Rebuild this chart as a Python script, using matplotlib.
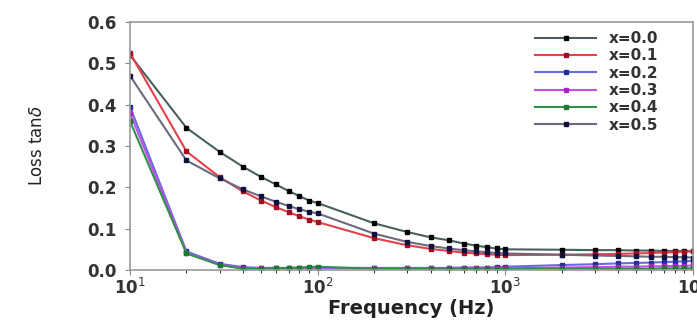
import numpy as np
import matplotlib
matplotlib.use("Agg")
from matplotlib import pyplot as plt

freq = [10, 20, 30, 40, 50, 60, 70, 80, 90,
        100, 200, 300, 400, 500, 600, 700, 800, 900,
        1000, 2000, 3000, 4000, 5000, 6000, 7000, 8000, 9000, 10000]

x00 = [0.520, 0.344, 0.286, 0.250, 0.225, 0.207, 0.191, 0.179, 0.168,
       0.162, 0.113, 0.092, 0.079, 0.072, 0.064, 0.059, 0.055, 0.052,
       0.050, 0.049, 0.048, 0.048, 0.047, 0.047, 0.046, 0.046, 0.046, 0.045]
x01 = [0.525, 0.287, 0.225, 0.190, 0.168, 0.152, 0.140, 0.130, 0.122,
       0.116, 0.077, 0.060, 0.051, 0.046, 0.042, 0.040, 0.038, 0.037,
       0.036, 0.037, 0.038, 0.039, 0.040, 0.041, 0.042, 0.043, 0.044, 0.045]
x02 = [0.395, 0.045, 0.015, 0.007, 0.005, 0.005, 0.005, 0.005, 0.005,
       0.005, 0.005, 0.005, 0.005, 0.005, 0.006, 0.006, 0.006, 0.007,
       0.008, 0.012, 0.014, 0.016, 0.017, 0.018, 0.019, 0.020, 0.021, 0.022]
x03 = [0.380, 0.042, 0.013, 0.005, 0.004, 0.004, 0.004, 0.004, 0.004,
       0.004, 0.004, 0.004, 0.004, 0.004, 0.004, 0.005, 0.005, 0.005,
       0.005, 0.006, 0.007, 0.008, 0.008, 0.009, 0.009, 0.010, 0.010, 0.011]
x04 = [0.360, 0.040, 0.012, 0.003, 0.003, 0.004, 0.005, 0.006, 0.007,
       0.008, 0.003, 0.003, 0.003, 0.003, 0.003, 0.003, 0.003, 0.003,
       0.003, 0.003, 0.003, 0.003, 0.003, 0.003, 0.004, 0.004, 0.004, 0.004]
x05 = [0.470, 0.265, 0.222, 0.195, 0.178, 0.165, 0.155, 0.147, 0.141,
       0.137, 0.088, 0.068, 0.058, 0.052, 0.048, 0.045, 0.043, 0.041,
       0.040, 0.037, 0.035, 0.034, 0.033, 0.032, 0.032, 0.031, 0.031, 0.030]

labels = ["x=0.0", "x=0.1", "x=0.2", "x=0.3", "x=0.4", "x=0.5"]
series = [x00, x01, x02, x03, x04, x05]
line_colors = ["#4a6060", "#e8404a", "#6a6ae0", "#c050e8", "#30904a", "#6a6a80"]
marker_colors = ["#000000", "#a01020", "#2030a0", "#b020c0", "#1a7a30", "#101040"]

fig = plt.figure(figsize=(6.97, 3.24), dpi=100)
ax = fig.add_axes([0.1865, 0.1667, 0.8075, 0.7653])

for y, lab, lc, mc in zip(series, labels, line_colors, marker_colors):
	ax.plot(freq, y, color=lc, lw=1.5, marker="s", ms=3.5,
	        mfc=mc, mec=mc, label=lab)

ax.set_xscale("log")
ax.set_xlim(10, 10000)
ax.set_ylim(0, 0.6)
ax.set_yticks([0.0, 0.1, 0.2, 0.3, 0.4, 0.5, 0.6])
ax.set_yticklabels(["0.0", "0.1", "0.2", "0.3", "0.4", "0.5", "0.6"],
                   fontsize=12, fontweight="bold")
ax.set_xticks([10, 100, 1000, 10000])
ax.set_xticklabels(["10$^1$", "10$^2$", "10$^3$", "10$^4$"],
                   fontsize=12, fontweight="bold")
ax.tick_params(axis="both", colors="#888888", labelcolor="#333333")
ax.tick_params(axis="y", pad=6)
ax.tick_params(axis="x", pad=2)

for s in ax.spines.values():
	s.set_color("#999999")
	s.set_linewidth(1.2)

ax.set_xlabel("Frequency (Hz)", fontsize=14, fontweight="bold", color="#222222", labelpad=1)
ax.set_ylabel("Loss tan$\\delta$", fontsize=12, color="#222222", labelpad=30)

leg = ax.legend(loc="upper right", bbox_to_anchor=(0.955, 1.0), frameon=False,
                fontsize=11, handlelength=4, labelspacing=0.15, borderaxespad=0.2)
for t in leg.get_texts():
	t.set_fontweight("bold")
	t.set_color("#333333")

fig.savefig("out.png", dpi=100)
